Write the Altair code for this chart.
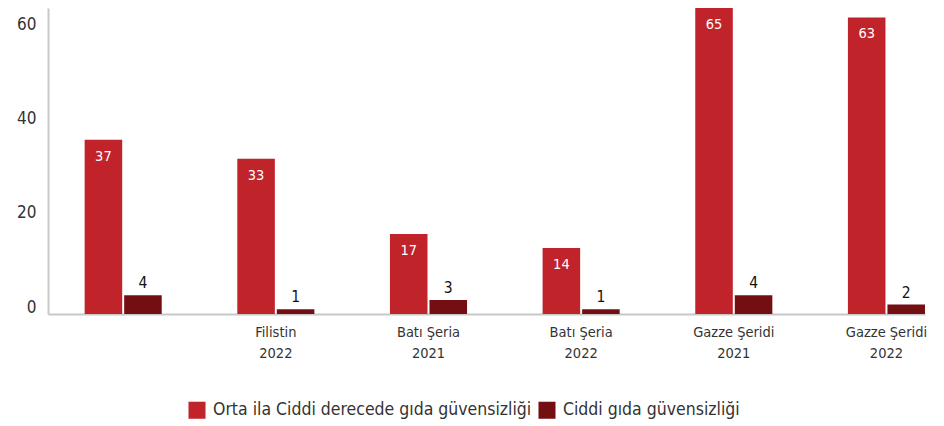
import altair as alt
import pandas as pd

categories = ["Filistin 2021", "Filistin 2022", "Batı Şeria 2021", "Batı Şeria 2022",
              "Gazze Şeridi 2021", "Gazze Şeridi 2022"]
shown_labels = ["", "Filistin\n2022", "Batı Şeria\n2021", "Batı Şeria\n2022",
                "Gazze Şeridi\n2021", "Gazze Şeridi\n2022"]
series_names = ["Orta ila Ciddi derecede gıda güvensizliği", "Ciddi gıda güvensizliği"]
moderate = [37, 33, 17, 14, 65, 63]
severe = [4, 1, 3, 1, 4, 2]
colors = ["#c0232a", "#730f12"]

rows = []
for c, m, s in zip(categories, moderate, severe):
    rows.append({"cat": c, "series": series_names[0], "value": m})
    rows.append({"cat": c, "series": series_names[1], "value": s})
df = pd.DataFrame(rows)

label_map = "{" + ",".join(f'"{c}": "{l}"'.replace("\n", "\\n") for c, l in zip(categories, shown_labels)) + "}"

FONT = "DejaVu Sans Condensed, Roboto, sans-serif"

x = alt.X("cat:N", sort=categories, title=None,
          scale=alt.Scale(paddingInner=0.495, paddingOuter=0.12, align=1),
          axis=alt.Axis(labelExpr=f"split({label_map}[datum.value], '\\n')",
                        labelAngle=0, ticks=False, labelPadding=11, labelFontSize=14.5,
                        labelColor="#333", labelFont=FONT, labelLineHeight=21,
                        domainColor="#c8c8c8", domainWidth=2))
y = alt.Y("value:Q", title=None,
          scale=alt.Scale(domain=[0, 65], nice=False),
          axis=alt.Axis(values=[0, 20, 40, 60], grid=False, ticks=False, labelPadding=12,
                        labelFontSize=17, labelColor="#333", labelFont=FONT,
                        labelOffset=-7,
                        domainColor="#c8c8c8", domainWidth=2, minExtent=35, maxExtent=35))
xoff = alt.XOffset("series:N", sort=series_names, scale=alt.Scale(paddingInner=0.05))
color = alt.Color("series:N", sort=series_names,
                  scale=alt.Scale(domain=series_names, range=colors),
                  legend=alt.Legend(title=None, orient="none", legendX=140, legendY=393,
                                    direction="horizontal",
                                    symbolType="square", symbolSize=290, symbolStrokeWidth=0,
                                    symbolOpacity=1,
                                    labelFontSize=17.5, labelColor="#333", labelFont=FONT,
                                    labelLimit=500, columnPadding=6, labelOffset=7))

bars = alt.Chart(df).mark_bar(opacity=1).encode(x=x, xOffset=xoff, y=y, color=color)

text_in = alt.Chart(df).transform_filter(
    alt.datum.series == series_names[0]
).mark_text(baseline="middle", dy=17, fontSize=14.5, color="white", font=FONT).encode(
    x=x, xOffset=xoff, y=y, text="value:Q")

text_out = alt.Chart(df).transform_filter(
    alt.datum.series == series_names[1]
).mark_text(baseline="bottom", dy=-4, fontSize=15.5, color="#111", font=FONT).encode(
    x=x, xOffset=xoff, y=y, text="value:Q")

chart = alt.layer(bars, text_in, text_out).properties(
    width=877, height=306,
    padding={"left": 5, "top": 0, "right": 5, "bottom": 5},
).configure_view(stroke=None)

chart.save("out.html", embed_options={"renderer": "svg", "actions": False})
